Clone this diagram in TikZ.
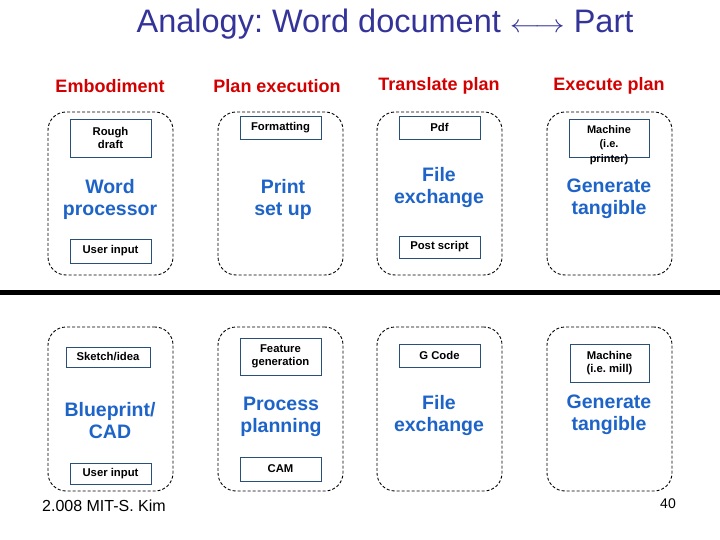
\documentclass[tikz,border=0pt]{standalone}
\usepackage{fontspec}
\setmainfont{Liberation Sans}
\usetikzlibrary{positioning}
\definecolor{titlecol}{RGB}{51,51,153}
\definecolor{headcol}{RGB}{210,0,0}
\definecolor{bluecol}{RGB}{30,100,200}
\definecolor{boxcol}{RGB}{40,80,120}
\tikzset{
  group/.style={draw=black, dashed, dash pattern=on 3pt off 2pt, line width=0.9pt, rounded corners=18pt, minimum width=125pt, inner sep=0pt},
  tag/.style={draw=boxcol, line width=0.9pt, minimum width=81pt, inner sep=1pt, align=center, font=\fontsize{11.3}{13.5}\selectfont\bfseries},
  head/.style={font=\fontsize{18}{21}\selectfont\bfseries, text=headcol},
  big/.style={font=\fontsize{19.5}{22}\selectfont\bfseries, text=bluecol, align=center},
}
\frenchspacing
\begin{document}
\begin{tikzpicture}[x=1pt,y=-1pt]
\useasboundingbox (0,0) rectangle (720,540);
% title
\node[text=titlecol, font=\fontsize{32.5}{36}\selectfont] (title) at (385,24) {Analogy: Word document \scalebox{1.2}[1]{$\longleftrightarrow$} Part};
% headers
\node[head] (h1) at (110,86) {Embodiment};
\node[head] (h2) at (277,86) {Plan execution};
\node[head] (h3) at (439,86) {Translate plan};
\node[head] (h4) at (609,86) {Execute plan};
% top groups
\node[group, minimum height=163pt] (g1) at (110.5,193.5) {};
\node[group, minimum height=163pt] (g2) at (280.5,193.5) {};
\node[group, minimum height=163pt] (g3) at (439.5,193.5) {};
\node[group, minimum height=163pt] (g4) at (609.5,193.5) {};
\node[tag, minimum height=38pt] (rough) at (110.5,138) {Rough\\draft};
\node[tag, minimum height=24pt] (user1) at (110.5,251) {User input};
\node[tag, minimum height=23pt] (fmt) at (280.5,127.5) {Formatting};
\node[tag, minimum height=23pt] (pdf) at (439.5,127.5) {Pdf};
\node[tag, minimum height=22pt] (ps) at (439.5,247) {Post script};
\node[tag, minimum height=38pt, minimum width=80pt] (mach1) at (609,138) {};
\node[align=center, font=\fontsize{11}{14.5}\selectfont\bfseries] (mach1t) at (609,145) {Machine\\(i.e.\\printer)};
\node[big] (wp) at (110,199) {Word\\processor};
\node[big] (psu) at (283,199) {Print\\set up};
\node[big] (fe1) at (439,188) {File\\exchange};
\node[big] (gt1) at (609,199) {Generate\\tangible};
% separator
\fill (0,290) rectangle (720,295);
% bottom groups
\node[group, minimum height=164pt] (b1) at (110.5,409) {};
\node[group, minimum height=164pt] (b2) at (280.5,409) {};
\node[group, minimum height=164pt] (b3) at (439.5,409) {};
\node[group, minimum height=164pt] (b4) at (609.5,409) {};
\node[tag, minimum height=20pt, minimum width=84pt] (sketch) at (108,357) {Sketch/idea};
\node[tag, minimum height=21pt] (user2) at (110.5,473.5) {User input};
\node[tag, minimum height=37pt] (feat) at (280.5,356.5) {Feature\\generation};
\node[tag, minimum height=24pt] (cam) at (280.5,469) {CAM};
\node[tag, minimum height=23pt] (gcode) at (439.5,355.5) {G Code};
\node[tag, minimum height=38pt, minimum width=79pt] (mach2) at (609.5,363) {Machine\\(i.e. mill)};
\node[big] (bp) at (110,421) {Blueprint/\\CAD};
\node[big] (pp) at (281,417) {Process\\planning};
\node[big] (fe2) at (439,415) {File\\exchange};
\node[big] (gt2) at (609,415) {Generate\\tangible};
% footer
\node[font=\fontsize{16}{18}\selectfont] (foot) at (104,506) {2.008 MIT-S. Kim};
\node[font=\fontsize{14}{17}\selectfont] (page) at (668,504) {40};
\end{tikzpicture}
\end{document}
